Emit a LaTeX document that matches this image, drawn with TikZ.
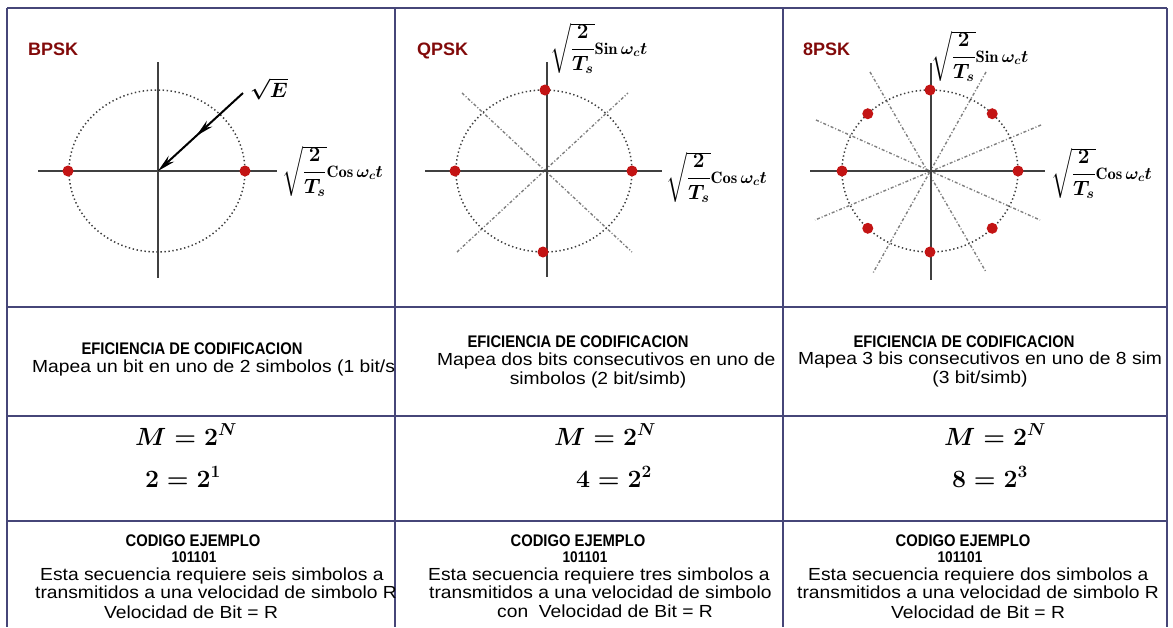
\documentclass[tikz,border=0pt]{standalone}
\usepackage{fontspec}
\usepackage{amsmath}
\usetikzlibrary{arrows.meta,decorations.markings}

\newfontfamily\tabfont[FakeStretch=1.1]{Liberation Sans}
\newfontfamily\capfont[FakeStretch=0.88]{Liberation Sans}
\newfontfamily\namefont{Liberation Sans}

\definecolor{gridblue}{RGB}{70,70,120}
\definecolor{titlered}{RGB}{130,10,10}
\definecolor{dotred}{RGB}{195,20,20}

% eje de la portadora: raiz grande, texto pequeno
\newcommand{\carrier}[1]{$\sqrt{\dfrac{2}{T_s}}$\fontsize{16.5}{16.5}\selectfont$\mathrm{#1}\,\omega_c t$}

\tikzset{
    grid line/.style = {gridblue, line width = 1.2pt},
    axis/.style = {black!75, line width = 1.5pt},
    orbit/.style = {black!75, line width = 1.5pt, dash pattern = on 1.4pt off 2.6pt},
    phase/.style = {black!50, line width = 1.4pt, dash pattern = on 3pt off 2pt on 1pt off 2pt},
    symbol/.style = {circle, fill = dotred, inner sep = 0pt, minimum size = 11pt},
    modname/.style = {font = \namefont\bfseries\fontsize{18}{18}\selectfont, text = titlered, anchor = base west, inner sep = 0pt},
    axlabel/.style = {font = \fontsize{22}{22}\selectfont\boldmath, anchor = west, inner sep = 0pt},
    energy/.style = {line width = 2pt, -{Stealth[length = 18pt, width = 8pt]},
        postaction = {decorate},
        decoration = {markings, mark = at position 0.55 with {\arrow{Stealth[length = 18pt, width = 8pt]}}}},
    celltitle/.style = {font = \capfont\bfseries\fontsize{16.8}{16.8}\selectfont, anchor = base, inner sep = 0pt},
    codebits/.style = {font = \capfont\bfseries\fontsize{15.5}{15.5}\selectfont, anchor = base, inner sep = 0pt},
    rowtext/.style = {font = \tabfont\fontsize{17.5}{18}\selectfont, anchor = base west, inner sep = 0pt},
    rowtextc/.style = {rowtext, anchor = base},
    eqn/.style = {font = \fontsize{26}{26}\selectfont\boldmath, anchor = base, inner sep = 0pt}
}

\begin{document}
\begin{tikzpicture}[x = 1pt, y = -1pt]
    \useasboundingbox (0, 0) rectangle (1173, 627);
    \fill[white] (0, 0) rectangle (1173, 627);

    % tabla
    \draw[grid line] (7, 8) -- (1167, 8);
    \foreach \yy in {307, 416, 521}
        \draw[grid line] (7, \yy) -- (1167, \yy);
    \foreach \xx in {7, 395, 783, 1167}
        \draw[grid line] (\xx, 8) -- (\xx, 627);

    % BPSK
    \node[modname] (bpskname) at (28, 55) {BPSK};
    \coordinate (bpsk0) at (158, 171);
    \draw[axis] (38, 171) -- (277, 171);
    \draw[axis] (158, 62) -- (158, 278);
    \draw[orbit] (157, 171) ellipse [x radius = 88, y radius = 81];
    \node[symbol] (b1) at (68, 171) {};
    \node[symbol] (b2) at (245, 171) {};
    \node[axlabel] (bpskcos) at (282, 171) {\carrier{Cos}};
    \node[axlabel, anchor = center] (bpskE) at (269, 89) {$\sqrt{E}$};
    \coordinate (bpskEtail) at (243, 93);
    \draw[energy] (bpskEtail) -- (bpsk0);

    % QPSK
    \node[modname] (qpskname) at (417, 55) {QPSK};
    \coordinate (qpsk0) at (545, 171);
    \draw[phase] (462, 93) -- (632, 252);
    \draw[phase] (457, 252) -- (628, 93);
    \draw[axis] (425, 171) -- (662, 171);
    \draw[axis] (547, 62) -- (547, 277);
    \draw[orbit] (544, 171) ellipse [x radius = 88, y radius = 81];
    \node[symbol] (q1) at (455, 171) {};
    \node[symbol] (q2) at (632, 171) {};
    \node[symbol] (q3) at (545, 90) {};
    \node[symbol] (q4) at (543, 252) {};
    \node[axlabel] (qpsksin) at (550, 48) {\carrier{Sin}};
    \node[axlabel] (qpskcos) at (666, 177) {\carrier{Cos}};

    % 8PSK
    \node[modname] (epskname) at (803, 55) {8PSK};
    \coordinate (epsk0) at (930, 171);
    \draw[phase] (870, 72) -- (986, 272);
    \draw[phase] (986, 72) -- (873, 273);
    \draw[phase] (816, 120) -- (1040, 220);
    \draw[phase] (1041, 125) -- (815, 220);
    \draw[axis] (810, 171) -- (1045, 171);
    \draw[axis] (931, 63) -- (931, 280);
    \draw[orbit] (930, 171) ellipse [x radius = 88, y radius = 81];
    \foreach \ang [count = \k] in {0, 45, ..., 315}
        \node[symbol] (e\k) at ({930 + 88*cos(\ang)}, {171 - 81*sin(\ang)}) {};
    \node[axlabel] (epsksin) at (931, 56) {\carrier{Sin}};
    \node[axlabel] (epskcos) at (1051, 173) {\carrier{Cos}};

    % columna 1
    \begin{scope}
        \clip (7, 8) rectangle (395, 627);
        \node[celltitle] (ef1) at (192, 354) {EFICIENCIA DE CODIFICACION};
        \node[rowtext] (map1) at (32, 372) {Mapea un bit en uno de 2 simbolos (1 bit/s};
        \node[eqn] (m1) at (186, 445) {$M=2^{N}$};
        \node[eqn] (n1) at (183, 487) {$2=2^{1}$};
        \node[celltitle] (cod1) at (193, 546) {CODIGO EJEMPLO};
        \node[codebits] (bits1) at (194, 562) {101101};
        \node[rowtext] (sec1) at (40, 580) {Esta secuencia requiere seis simbolos a};
        \node[rowtext] (tra1) at (35, 598) {transmitidos a una velocidad de simbolo R};
        \node[rowtextc] (vel1) at (191, 618) {Velocidad de Bit = R};
    \end{scope}

    % columna 2
    \begin{scope}
        \clip (395, 8) rectangle (783, 627);
        \node[celltitle] (ef2) at (578, 347) {EFICIENCIA DE CODIFICACION};
        \node[rowtext] (map2) at (437, 365) {Mapea dos bits consecutivos en uno de};
        \node[rowtextc] (sim2) at (598, 384) {simbolos (2 bit/simb)};
        \node[eqn] (m2) at (605, 445) {$M=2^{N}$};
        \node[eqn] (n2) at (614, 487) {$4=2^{2}$};
        \node[celltitle] (cod2) at (578, 546) {CODIGO EJEMPLO};
        \node[codebits] (bits2) at (585, 562) {101101};
        \node[rowtext] (sec2) at (428, 580) {Esta secuencia requiere tres simbolos a};
        \node[rowtext] (tra2) at (429, 598) {transmitidos a una velocidad de simbolo};
        \node[rowtextc] (vel2) at (605, 617) {con\ \ Velocidad de Bit = R};
    \end{scope}

    % columna 3
    \begin{scope}
        \clip (783, 8) rectangle (1167, 627);
        \node[celltitle] (ef3) at (964, 347) {EFICIENCIA DE CODIFICACION};
        \node[rowtext] (map3) at (798, 364) {Mapea 3 bis consecutivos en uno de 8 sim};
        \node[rowtextc] (sim3) at (980, 383) {(3 bit/simb)};
        \node[eqn] (m3) at (995, 445) {$M=2^{N}$};
        \node[eqn] (n3) at (990, 487) {$8=2^{3}$};
        \node[celltitle] (cod3) at (963, 546) {CODIGO EJEMPLO};
        \node[codebits] (bits3) at (960, 562) {101101};
        \node[rowtext] (sec3) at (808, 580) {Esta secuencia requiere dos simbolos a};
        \node[rowtext] (tra3) at (797, 598) {transmitidos a una velocidad de simbolo R};
        \node[rowtextc] (vel3) at (978, 618) {Velocidad de Bit = R};
    \end{scope}
\end{tikzpicture}
\end{document}
